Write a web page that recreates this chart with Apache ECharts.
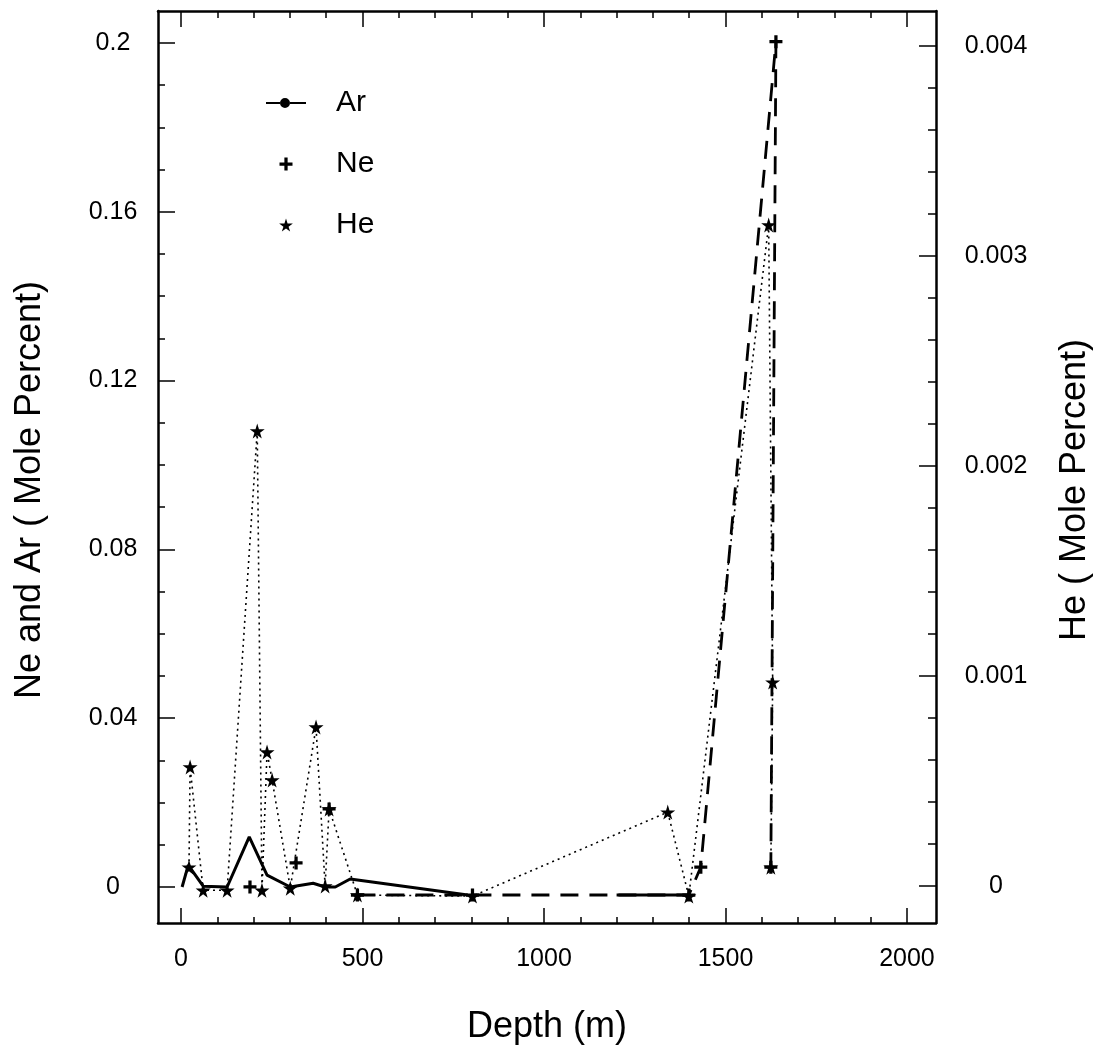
<!DOCTYPE html>
<html>
<head>
<meta charset="utf-8">
<title>Ne, Ar and He versus depth</title>
<script src="https://cdn.jsdelivr.net/npm/echarts@6/dist/echarts.min.js"></script>
<style>
  html, body { margin: 0; padding: 0; background: #fff; }
  #chart { width: 1102px; height: 1051px; }
</style>
</head>
<body>
<div id="chart"></div>
<script>
// depth (m) and mole percent. null = gap in the line
const arDepth = [3, 20, 61, 127, 188, 237, 301, 364, 397, 425, 466, 790, 1000, 1200, 1399];
const arValue = [0, 0.0052, 0.0002, 0, 0.0119, 0.0028, 0, 0.0009, 0, 0, 0.0019, -0.0019, null, -0.0019, -0.0019];

const neDepth = [190, 250, 317, 360, 408, 450, 486, 803, 1399, 1432, 1639, 1625];
const neValue = [0, null, 0.0057, null, 0.0185, null, -0.0019, -0.0019, -0.0019, 0.0047, 0.2003, 0.0047];

const heDepth = [22, 25, 61, 127, 210, 223, 237, 251, 301, 372, 397, 408, 486, 803, 1341, 1399, 1619, 1630, 1625];
const heValue = [0.00009, 0.000567, -0.00002, -0.00002, 0.002167, -0.00002, 0.000638, 0.000505, -0.00001,
                 0.000757, 0, 0.000367, -0.000043, -0.000048, 0.000352, -0.000048, 0.003148, 0.000971, 0.00009];

// tick labels
const depthLabels = [0, 500, 1000, 1500, 2000];
const neArLabels = [0, 0.04, 0.08, 0.12, 0.16, 0.2];
const heLabels = [0, 0.001, 0.002, 0.003, 0.004];

const FONT = '"Liberation Sans", Arial, Helvetica, sans-serif';
const STAR = 'path://M50,0 L61,35 L98,35 L68,57 L79,91 L50,70 L21,91 L32,57 L2,35 L39,35 Z';
const PLUS = 'path://M4.5,0 H7.5 V4.5 H12 V7.5 H7.5 V12 H4.5 V7.5 H0 V4.5 H4.5 Z';
const AR_ICON = 'path://M0,4 H14 V6 H0 Z M24,4 H40 V6 H24 Z M14,5 A5,5 0 1,1 24,5 A5,5 0 1,1 14,5 Z';

function pairs(xs, ys) {
  return xs.map((x, i) => [x, ys[i] === null ? '-' : ys[i]]);
}
// evenly spaced minor tick positions
function steps(from, to, n) {
  const out = [];
  for (let i = 0; i <= n; i++) out.push(+(from + (to - from) * i / n).toFixed(6));
  return out;
}

const line = { show: true, onZero: false, lineStyle: { color: '#000', width: 2.5 } };
const noLine = { show: false, onZero: false };
const lbl = { fontFamily: FONT, fontSize: 25, color: '#000' };
const titleStyle = { fontFamily: FONT, fontSize: 36, color: '#000' };

function tickAxis(base, ticks, len, showLine) {
  return Object.assign({
    type: 'value',
    axisLine: showLine ? line : noLine,
    axisTick: { show: true, inside: true, length: len, customValues: ticks, lineStyle: { color: '#000', width: 1.5 } },
    axisLabel: { show: false },
    splitLine: { show: false }
  }, base);
}

const X_MIN = -63.4, X_MAX = 2080;
const L_MIN = -0.008531, L_MAX = 0.207583;
const R_MIN = -0.000176, R_MAX = 0.0041667;

const chart = echarts.init(document.getElementById('chart'));
chart.setOption({
  animation: false,
  backgroundColor: '#fff',
  grid: { left: 158, right: 166, top: 11, bottom: 128, containLabel: false, outerBoundsMode: 'none' },
  legend: {
    orient: 'vertical',
    left: 266,
    top: 88,
    padding: 0,
    itemWidth: 40,
    itemHeight: 13,
    itemGap: 31,
    selectedMode: false,
    textStyle: { fontFamily: FONT, fontSize: 30, color: '#000', padding: [0, 0, 0, 25] },
    data: [
      { name: 'Ar', icon: AR_ICON },
      { name: 'Ne', icon: PLUS },
      { name: 'He', icon: STAR }
    ]
  },
  xAxis: [
    tickAxis({
      position: 'bottom', min: X_MIN, max: X_MAX,
      axisLabel: Object.assign({ show: true, customValues: depthLabels, margin: 24, formatter: v => String(v) }, lbl),
      name: 'Depth (m)', nameLocation: 'middle', nameGap: 86, nameTextStyle: titleStyle
    }, depthLabels, 15, true),
    tickAxis({ position: 'bottom', min: X_MIN, max: X_MAX }, steps(0, 2000, 20), 6, false),
    tickAxis({ position: 'top', min: X_MIN, max: X_MAX }, depthLabels, 16, true),
    tickAxis({ position: 'top', min: X_MIN, max: X_MAX }, steps(0, 2000, 20), 7, false)
  ],
  yAxis: [
    tickAxis({
      position: 'left', min: L_MIN, max: L_MAX,
      axisLabel: Object.assign({ show: true, customValues: neArLabels, margin: 45, align: 'center', formatter: v => String(v) }, lbl),
      name: 'Ne and Ar ( Mole Percent)', nameLocation: 'middle', nameRotate: 90, nameGap: 110,
      nameTextStyle: Object.assign({ padding: [0, 46, 0, 0] }, titleStyle)
    }, neArLabels, 17, true),
    tickAxis({ position: 'left', min: L_MIN, max: L_MAX }, steps(0, 0.2, 20), 7, false),
    tickAxis({
      position: 'right', min: R_MIN, max: R_MAX,
      axisLabel: Object.assign({ show: true, customValues: heLabels, margin: 60, align: 'center', formatter: v => String(v) }, lbl),
      name: 'He ( Mole Percent)', nameLocation: 'middle', nameRotate: 90, nameGap: 121,
      nameTextStyle: Object.assign({ padding: [0, 46, 0, 0] }, titleStyle)
    }, heLabels, 17, true),
    tickAxis({ position: 'right', min: R_MIN, max: R_MAX }, steps(0, 0.004, 20), 8, false)
  ],
  series: [
    {
      name: 'He', type: 'line', xAxisIndex: 0, yAxisIndex: 2,
      data: pairs(heDepth, heValue),
      symbol: STAR, symbolSize: 15, showAllSymbol: true,
      itemStyle: { color: '#000' },
      lineStyle: { color: '#000', width: 1.6, type: [2, 4] }
    },
    {
      name: 'Ne', type: 'line', xAxisIndex: 0, yAxisIndex: 0,
      data: pairs(neDepth, neValue),
      symbol: PLUS, symbolSize: 13, showAllSymbol: true, connectNulls: false,
      itemStyle: { color: '#000' },
      lineStyle: { color: '#000', width: 2.8, type: [18, 11] }
    },
    {
      name: 'Ar', type: 'line', xAxisIndex: 0, yAxisIndex: 0,
      data: pairs(arDepth, arValue),
      symbol: 'none', connectNulls: false,
      itemStyle: { color: '#000' },
      lineStyle: { color: '#000', width: 3 }
    }
  ]
});

window.addEventListener('resize', () => chart.resize());
</script>
</body>
</html>
